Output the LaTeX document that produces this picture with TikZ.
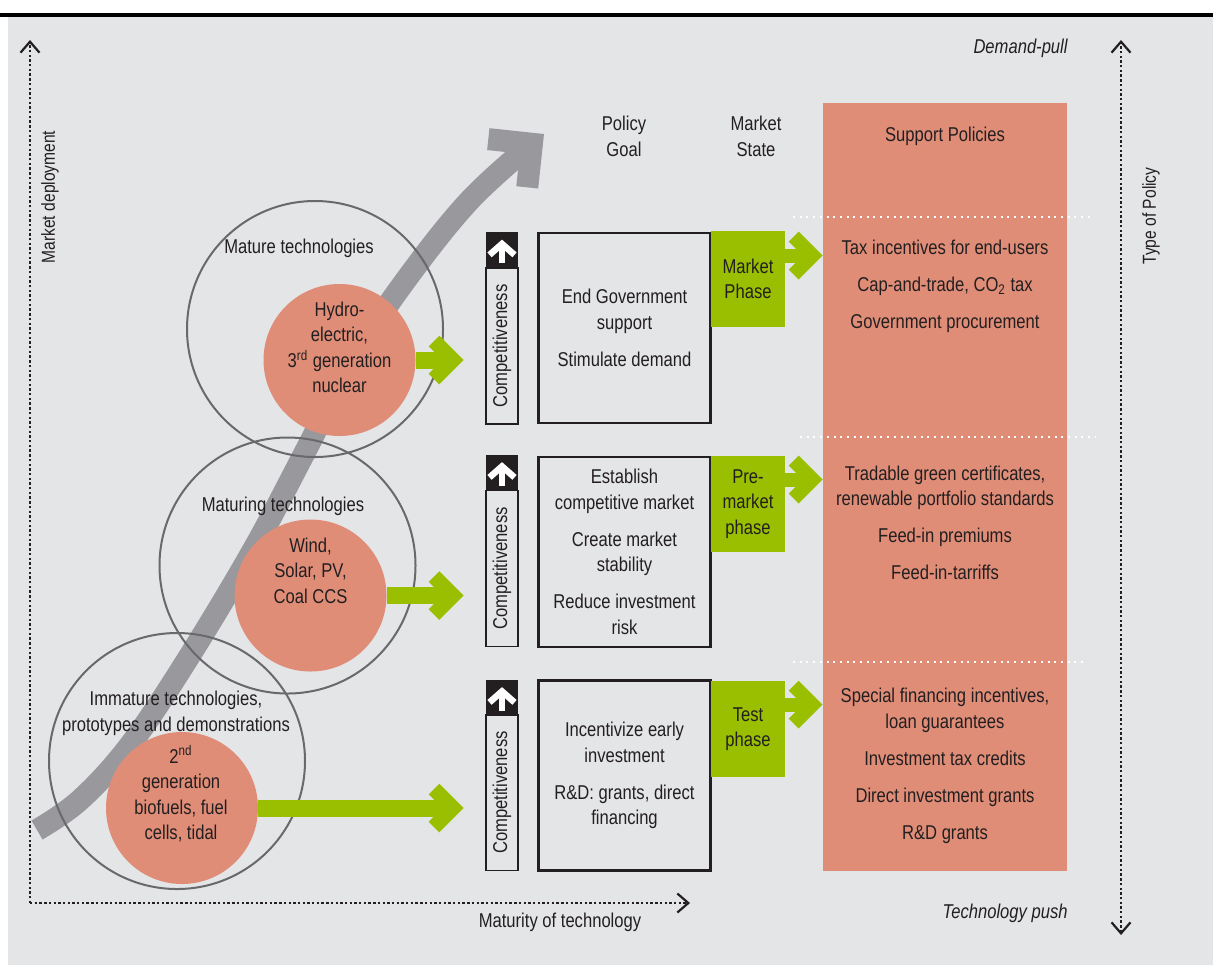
\documentclass[tikz,border=0pt]{standalone}
\usepackage{fontspec}
\setmainfont{Liberation Sans}[FakeStretch=0.83]
\usepackage{xcolor}
\usepackage{tikz}
\usetikzlibrary{arrows.meta}

\definecolor{bggray}{HTML}{E4E5E7}
\definecolor{salmon}{HTML}{E08D78}
\definecolor{phasegreen}{HTML}{9ABF00}
\definecolor{bandgray}{HTML}{99989D}
\definecolor{ringgray}{HTML}{69696B}
\definecolor{ink}{HTML}{231F20}
\newcommand{\figfont}{\fontsize{10}{12.75}\selectfont}
\newcommand{\axfont}{\fontsize{9.4}{11}\selectfont}

\begin{document}
\begin{tikzpicture}[x=0.5pt, y=-0.5pt,
    every node/.style={text=ink, font=\figfont, align=center, inner sep=0pt},
    ring/.style={circle, draw=ringgray, line width=1pt, minimum size=128pt},
    tech/.style={circle, fill=salmon, minimum size=76pt},
    hdr/.style={fill=ink, minimum width=16pt, minimum height=18pt},
    comp/.style={draw=ink, line width=0.7pt, rotate=90, minimum width=78pt, minimum height=16pt},
    goal/.style={draw=ink, line width=1.3pt, minimum width=86pt, minimum height=95pt},
    phase/.style={fill=phasegreen, minimum width=37pt, minimum height=48pt},
    axis/.style={draw=ink, line width=1.2pt, dash pattern=on 1.2pt off 1.15pt},
    axtip/.tip={Straight Barb[length=5.5pt, width=9.5pt, line width=1.1pt, sharp]},
    sep/.style={draw=white, line width=1pt, dash pattern=on 1pt off 2.35pt},
    band/.style={draw=bandgray, line width=11pt, -{Straight Barb[length=15.5pt, width=31pt, sharp]}},
    bigarrow/.style={draw=phasegreen, line width=8.5pt, -{Straight Barb[length=9.5pt, width=19pt, line width=7.5pt, sharp]}, shorten >=11pt},
    smallarrow/.style={draw=phasegreen, line width=7pt, -{Straight Barb[length=9.5pt, width=19pt, sharp]}},
    uparrow/.style={draw=white, line width=3.2pt, -{Straight Barb[length=5.5pt, width=12.5pt, sharp]}, shorten <=2.5pt, shorten >=4pt}]

    \useasboundingbox (0,0) rectangle (1213,965);
    \fill[bggray] (8,17) rectangle (1213,965);
    \fill[black] (0,13) rectangle (1213,17);

    \draw[band] plot[smooth, tension=0.6] coordinates {(37,830) (80,800) (130,745) (187,660) (253,550) (305,452) (350,365) (400,288) (470,200) (544,134)};

    \node[ring] (matureR) at (315,329) {};
    \node[ring] (maturingR) at (287.5,565.5) {};
    \node[ring] (immatureR) at (177,761) {};
    \node[tech] (hydro) at (339.5,360) {};
    \node[tech] (wind) at (310.5,595.5) {};
    \node[tech] (bio) at (182,808) {};

    \node (matureL) at (299,248) {Mature technologies};
    \node (maturingL) at (283,506) {Maturing technologies};
    \node (immatureL) at (176,713.5) {Immature technologies,\\prototypes and demonstrations};
    \node (hydroT) at (339.5,347.5) {Hydro-\\electric,\\3\textsuperscript{rd} generation\\nuclear};
    \node (windT) at (310.5,570.5) {Wind,\\Solar, PV,\\Coal CCS};
    \node (bioT) at (181,794) {2\textsuperscript{nd}\\generation\\biofuels, fuel\\cells, tidal};

    \node (goalH) at (624,136.5) {Policy\\Goal};
    \node (stateH) at (756,136.5) {Market\\State};

    \node[hdr] (hdrA) at (502,250) {};
    \node[comp] (compA) at (502,346) {Competitiveness};
    \node[hdr] (hdrB) at (502,472.5) {};
    \node[comp] (compB) at (502,568.5) {Competitiveness};
    \node[hdr] (hdrC) at (502,697.5) {};
    \node[comp] (compC) at (502,792.5) {Competitiveness};
    \draw[uparrow] (hdrA.south) -- (hdrA.north);
    \draw[uparrow] (hdrB.south) -- (hdrB.north);
    \draw[uparrow] (hdrC.south) -- (hdrC.north);

    \node[goal] (goalA) at (624.5,328) {End Government\\support\\[5.75pt]Stimulate demand};
    \node[goal] (goalB) at (624.5,552) {Establish\\competitive market\\[5.75pt]Create market\\stability\\[5.75pt]Reduce investment\\risk};
    \node[goal] (goalC) at (624.5,775.5) {Incentivize early\\investment\\[5.75pt]R\&D: grants, direct\\financing};

    \node[phase] (phaseA) at (748,279) {Market\\Phase};
    \node[phase] (phaseB) at (748,504) {Pre-\\market\\phase};
    \node[phase] (phaseC) at (748,729) {Test\\phase};

    \node[fill=salmon, minimum width=122pt, minimum height=384pt] (sup) at (945,487) {};
    \node (supT) at (945,136) {Support Policies};
    \draw[sep] (793,217) -- (1090,217);
    \draw[sep] (800,437) -- (1095,437);
    \draw[sep] (793,662) -- (1087,662);
    \node (polA) at (945,286) {Tax incentives for end-users\\[5.75pt]Cap-and-trade, CO\textsubscript{2} tax\\[5.75pt]Government procurement};
    \node (polB) at (945,523) {Tradable green certificates,\\renewable portfolio standards\\[5.75pt]Feed-in premiums\\[5.75pt]Feed-in-tarriffs};
    \node (polC) at (945,766) {Special financing incentives,\\loan guarantees\\[5.75pt]Investment tax credits\\[5.75pt]Direct investment grants\\[5.75pt]R\&D grants};

    \draw[bigarrow] (hydro.east) -- (hydro.east -| hdrA.west);
    \draw[bigarrow] (wind.east) -- (wind.east -| hdrB.west);
    \draw[bigarrow] (bio.east) -- (bio.east -| hdrC.west);

    \coordinate (mA) at ([yshift=-12.5pt]phaseA.north east);
    \coordinate (mB) at ([yshift=-12pt]phaseB.north east);
    \coordinate (mC) at ([yshift=-12pt]phaseC.north east);
    \draw[smallarrow] (mA) -- (mA -| sup.west);
    \draw[smallarrow] (mB) -- (mB -| sup.west);
    \draw[smallarrow] (mC) -- (mC -| sup.west);

    \coordinate (O) at (30,903);
    \coordinate (ytip) at (30,40);
    \coordinate (xtip) at (690,903);
    \coordinate (ptop) at (1121,40);
    \coordinate (pbot) at (1121,935);
    \draw[axis, -axtip] (O) -- (ytip);
    \draw[axis, -axtip] (O) -- (xtip);
    \draw[axis, axtip-axtip] (pbot) -- (ptop);
    \node[font=\axfont, rotate=90] (ylbl) at (50,197) {Market deployment};
    \node (xlbl) at (560,922) {Maturity of technology};
    \node[font=\axfont, rotate=90] (plbl) at (1151,216) {Type of Policy};
    \node[font=\figfont\itshape, anchor=east] (pull) at (1068,48) {Demand-pull};
    \node[font=\figfont\itshape, anchor=east] (push) at (1068,913) {Technology push};
\end{tikzpicture}
\end{document}
